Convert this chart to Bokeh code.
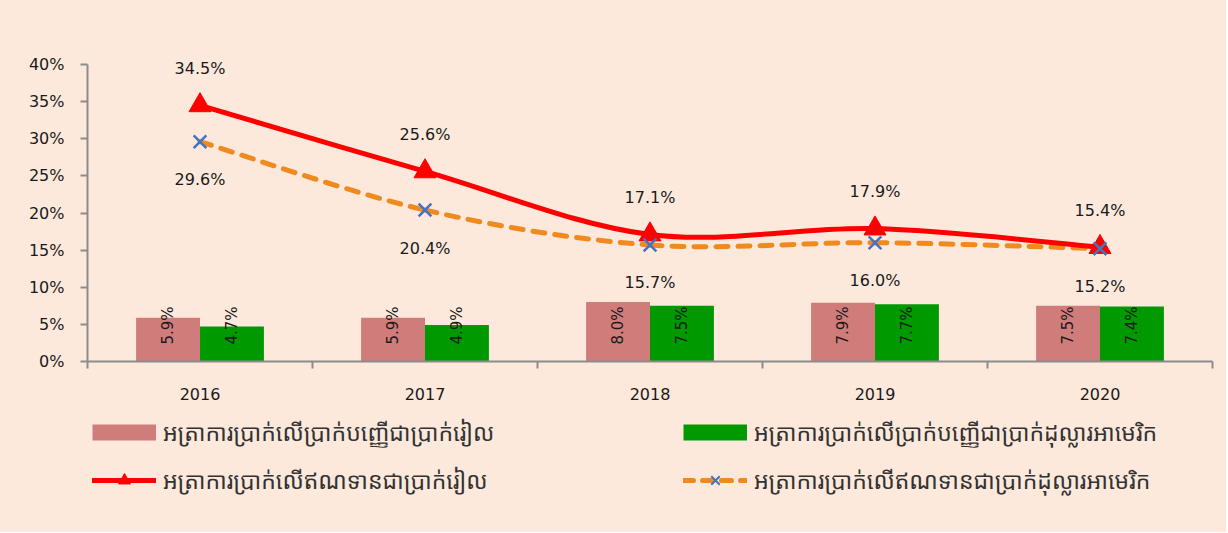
from math import pi
from bokeh.plotting import figure
from bokeh.layouts import column
from bokeh.models import (ColumnDataSource, FixedTicker, NumeralTickFormatter,
                          Legend, LegendItem, Range1d)
from bokeh.core.properties import value
from bokeh.embed import file_html
from bokeh.resources import INLINE

# ---- data ----
years = ["2016", "2017", "2018", "2019", "2020"]
deposit_khr = [5.9, 5.9, 8.0, 7.9, 7.5]
deposit_usd = [4.7, 4.9, 7.5, 7.7, 7.4]
loan_khr = [34.5, 25.6, 17.1, 17.9, 15.4]
loan_usd = [29.6, 20.4, 15.7, 16.0, 15.2]
y_ticks = [0, 5, 10, 15, 20, 25, 30, 35, 40]
series_names = [
    "អត្រាការប្រាក់លើប្រាក់បញ្ញើជាប្រាក់រៀល",
    "អត្រាការប្រាក់លើប្រាក់បញ្ញើជាប្រាក់ដុល្លារអាមេរិក",
    "អត្រាការប្រាក់លើឥណទានជាប្រាក់រៀល",
    "អត្រាការប្រាក់លើឥណទានជាប្រាក់ដុល្លារអាមេរិក",
]

BG = "#FCE9DC"
PINK = "#D07C7A"
GREEN = "#009900"
RED = "#FF0000"
ORANGE = "#F0891E"
BLUE = "#4472C4"
AXIS = "#8C8C8C"
TXT = "#1A1A1A"
FONT = "DejaVu Sans"
KFONT = "Noto Sans Khmer, Khmer OS System, Khmer OS, sans-serif"

W = 1226
TOP_H = 411
LEG_H = 121
FRAME_L = 87

n = len(years)
xc = [i + 0.5 for i in range(n)]
dodge = 0.142
bw = 0.284

src = ColumnDataSource(dict(
    x=xc,
    x_khr=[x - dodge for x in xc],
    x_usd=[x + dodge for x in xc],
    dep_khr=[v / 100 for v in deposit_khr],
    dep_usd=[v / 100 for v in deposit_usd],
    loan_khr=[v / 100 for v in loan_khr],
    loan_usd=[v / 100 for v in loan_usd],
    lab_dep_khr=[f"{v:.1f}%" for v in deposit_khr],
    lab_dep_usd=[f"{v:.1f}%" for v in deposit_usd],
    lab_loan_khr=[f"{v:.1f}%" for v in loan_khr],
    lab_loan_usd=[f"{v:.1f}%" for v in loan_usd],
    zero=[0] * n,
))

# frame: x 87..1212, y 10..361 ; 40% at y=64
y_top = 0.40 + 54 / (297 / 0.40)
p = figure(width=W, height=TOP_H, x_range=Range1d(0, n), y_range=Range1d(0, y_top),
           output_backend="svg", toolbar_location=None,
           min_border_left=FRAME_L, min_border_right=W - 1212, min_border_top=10,
           min_border_bottom=TOP_H - 361,
           background_fill_color=None, border_fill_color=None, outline_line_color=None,
           styles={"background-color": BG})
p.grid.visible = False

# axes
p.xaxis.ticker = FixedTicker(ticks=xc, minor_ticks=list(range(n + 1)))
p.xaxis.major_label_overrides = {x: y for x, y in zip(xc, years)}
p.xaxis.major_tick_line_color = None
p.xaxis.major_tick_out = 0
p.xaxis.major_tick_in = 0
p.xaxis.minor_tick_out = 7
p.xaxis.minor_tick_in = 0
p.xaxis.minor_tick_line_color = AXIS
p.xaxis.minor_tick_line_width = 2
p.xaxis.major_label_standoff = 19

p.yaxis.ticker = FixedTicker(ticks=[t / 100 for t in y_ticks], minor_ticks=[])
p.yaxis.formatter = NumeralTickFormatter(format="0%")
p.yaxis.bounds = (0, 0.40)
p.yaxis.major_tick_out = 7
p.yaxis.major_tick_in = 0
p.yaxis.major_tick_line_color = AXIS
p.yaxis.major_tick_line_width = 2
p.yaxis.major_label_standoff = 16
p.yaxis.minor_tick_line_color = None

for ax in (p.xaxis, p.yaxis):
    ax.axis_line_color = AXIS
    ax.axis_line_width = 2
    ax.major_label_text_font = FONT
    ax.major_label_text_font_size = "16px"
    ax.major_label_text_color = TXT

# bars
p.vbar(x="x_khr", top="dep_khr", width=bw, source=src, fill_color=PINK, line_color=None)
p.vbar(x="x_usd", top="dep_usd", width=bw, source=src, fill_color=GREEN, line_color=None)

# bar labels (rotated)
for xcol, lcol in (("x_khr", "lab_dep_khr"), ("x_usd", "lab_dep_usd")):
    p.text(x=xcol, y="zero", text=lcol, source=src, angle=pi / 2,
           text_align="left", text_baseline="middle", y_offset=-17,
           text_font=value(FONT), text_font_size="15px", text_color=TXT)


# smoothed lines (Bezier segments through the data points)
def bez_source(xs, ys):
    m = len(xs)
    d = dict(x0=[], y0=[], x1=[], y1=[], cx0=[], cy0=[], cx1=[], cy1=[])
    for i in range(m - 1):
        a = max(i - 1, 0)
        b = min(i + 2, m - 1)
        d["x0"].append(xs[i]); d["y0"].append(ys[i])
        d["x1"].append(xs[i + 1]); d["y1"].append(ys[i + 1])
        d["cx0"].append(xs[i] + (xs[i + 1] - xs[a]) / 6)
        d["cy0"].append(ys[i] + (ys[i + 1] - ys[a]) / 6)
        d["cx1"].append(xs[i + 1] - (xs[b] - xs[i]) / 6)
        d["cy1"].append(ys[i + 1] - (ys[b] - ys[i]) / 6)
    return ColumnDataSource(d)


bz_usd = bez_source(xc, src.data["loan_usd"])
bz_khr = bez_source(xc, src.data["loan_khr"])
p.bezier(x0="x0", y0="y0", x1="x1", y1="y1", cx0="cx0", cy0="cy0", cx1="cx1", cy1="cy1",
         source=bz_usd, line_color=ORANGE, line_width=5, line_dash="12 10", line_cap="round")
p.bezier(x0="x0", y0="y0", x1="x1", y1="y1", cx0="cx0", cy0="cy0", cx1="cx1", cy1="cy1",
         source=bz_khr, line_color=RED, line_width=5, line_cap="round")
p.scatter(x="x", y="loan_khr", source=src, marker="triangle", size=22,
          fill_color=RED, line_color=RED)
p.scatter(x="x", y="loan_usd", source=src, marker="x", size=18,
          line_color=BLUE, line_width=2.5)

# line labels
p.text(x="x", y="loan_khr", text="lab_loan_khr", source=src, y_offset=-37,
       text_align="center", text_baseline="middle",
       text_font=value(FONT), text_font_size="16px", text_color=TXT)
p.text(x="x", y="loan_usd", text="lab_loan_usd", source=src, y_offset=38,
       text_align="center", text_baseline="middle",
       text_font=value(FONT), text_font_size="16px", text_color=TXT)

# ---- legend strip ----
q = figure(width=W, height=LEG_H, output_backend="svg", toolbar_location=None,
           x_range=Range1d(0, 1), y_range=Range1d(0, 1),
           x_axis_location=None, y_axis_location=None, min_border=0,
           background_fill_color=None, border_fill_color=None, outline_line_color=None,
           styles={"background-color": BG})
q.grid.visible = False
lg_src = ColumnDataSource(dict(x=[-10.0], y=[-10.0]))
# bar swatches drawn as thick butt-capped lines (16 px tall rectangles)
lg_pink = q.line(x="x", y="y", source=lg_src, line_color=PINK, line_width=16, line_cap="butt")
lg_green = q.line(x="x", y="y", source=lg_src, line_color=GREEN, line_width=16, line_cap="butt")
lg_red_l = q.line(x="x", y="y", source=lg_src, line_color=RED, line_width=5, line_cap="round")
lg_red_m = q.scatter(x="x", y="y", source=lg_src, marker="triangle", size=12,
                     fill_color=RED, line_color=RED)
lg_or_l = q.line(x="x", y="y", source=lg_src, line_color=ORANGE, line_width=5,
                 line_dash="10 9", line_cap="round")
lg_or_m = q.scatter(x="x", y="y", source=lg_src, marker="x", size=12,
                    line_color=BLUE, line_width=2)

common = dict(orientation="vertical", padding=0, margin=0, spacing=16,
              glyph_width=64, glyph_height=30, label_height=20, label_standoff=7,
              label_text_font=KFONT, label_text_font_size="23px",
              label_text_color="#333333", border_line_alpha=0,
              background_fill_alpha=0, label_text_baseline="middle")
leg1 = Legend(items=[LegendItem(label=series_names[0], renderers=[lg_pink]),
                     LegendItem(label=series_names[2], renderers=[lg_red_l, lg_red_m])],
              location=(92 - FRAME_L, 36), **common)
leg2 = Legend(items=[LegendItem(label=series_names[1], renderers=[lg_green]),
                     LegendItem(label=series_names[3], renderers=[lg_or_l, lg_or_m])],
              location=(683 - FRAME_L, 36), **common)
q.add_layout(leg1, "center")
q.add_layout(leg2, "center")

layout = column(p, q, spacing=0)
open("out.html", "w").write(file_html(layout, INLINE))
